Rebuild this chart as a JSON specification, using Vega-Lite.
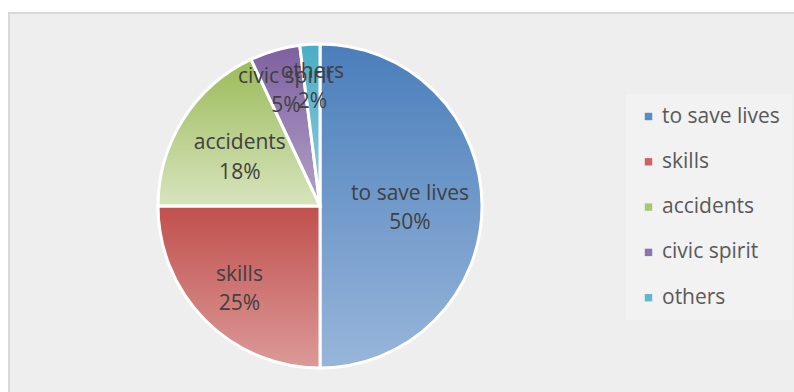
{
  "$schema": "https://vega.github.io/schema/vega-lite/v6.json",
  "width": 785,
  "height": 379,
  "autosize": {"type": "none"},
  "padding": {"left": 9, "top": 13, "right": 0, "bottom": 0},
  "background": "white",
  "config": {
    "view": {"stroke": null},
    "font": "Open Sans"
  },
  "data": {
    "values": [
      {"category": "to save lives", "value": 50, "rank": 1},
      {"category": "skills", "value": 25, "rank": 2},
      {"category": "accidents", "value": 18, "rank": 3},
      {"category": "civic spirit", "value": 5, "rank": 4},
      {"category": "others", "value": 2, "rank": 5}
    ]
  },
  "transform": [{"calculate": "[datum.category, datum.value + '%']", "as": "label"}],
  "layer": [
    {
      "data": {"values": [{}]},
      "mark": {"type": "rect", "fill": "#eeeeee", "stroke": "#d9d9d9", "strokeWidth": 2},
      "encoding": {
        "x": {"value": 0},
        "x2": {"value": 800},
        "y": {"value": 0},
        "y2": {"value": 400}
      }
    },
    {
      "mark": {"type": "arc", "x": {"expr": "width*0.3962"}, "y": {"expr": "height*0.5092"}, "outerRadius": 162},
      "encoding": {
        "theta": {"field": "value", "type": "quantitative", "stack": true},
        "order": {"field": "rank", "type": "quantitative"},
        "color": {
          "field": "category",
          "type": "nominal",
          "scale": {
            "domain": ["to save lives", "skills", "accidents", "civic spirit", "others"],
            "range": ["#5b8cc8", "#cc6461", "#aac673", "#8d73ac", "#5fb8d0"]
          },
          "legend": {
            "orient": "none",
            "legendX": 617,
            "legendY": 81,
            "title": null,
            "padding": 12,
            "fillColor": "rgba(255,255,255,0.25)",
            "symbolType": "square",
            "symbolSize": 55,
            "symbolStrokeWidth": 0,
            "labelFontSize": 21,
            "labelFont": "Open Sans",
            "labelColor": "#595959",
            "labelOffset": 3,
            "rowPadding": 23.3
          }
        }
      }
    },
    {
      "mark": {"type": "arc", "x": {"expr": "width*0.3962"}, "y": {"expr": "height*0.5092"}, "outerRadius": 162, "stroke": "white", "strokeWidth": 3},
      "encoding": {
        "theta": {"field": "value", "type": "quantitative", "stack": true},
        "order": {"field": "rank", "type": "quantitative"},
        "fill": {
          "condition": [
            {"test": "datum.category === 'to save lives'", "value": {"gradient": "linear", "x1": 0, "y1": 0, "x2": 0, "y2": 1, "stops": [{"offset": 0, "color": "#4a7ebb"}, {"offset": 1, "color": "#98b6da"}]}},
            {"test": "datum.category === 'skills'", "value": {"gradient": "linear", "x1": 0, "y1": 0, "x2": 0, "y2": 1, "stops": [{"offset": 0, "color": "#c0504d"}, {"offset": 1, "color": "#dc9a98"}]}},
            {"test": "datum.category === 'accidents'", "value": {"gradient": "linear", "x1": 0, "y1": 0, "x2": 0, "y2": 1, "stops": [{"offset": 0, "color": "#9bbb59"}, {"offset": 1, "color": "#d7e4bd"}]}},
            {"test": "datum.category === 'civic spirit'", "value": {"gradient": "linear", "x1": 0, "y1": 0, "x2": 0, "y2": 1, "stops": [{"offset": 0, "color": "#7d60a0"}, {"offset": 1, "color": "#b3a2c7"}]}}
          ],
          "value": {"gradient": "linear", "x1": 0, "y1": 0, "x2": 0, "y2": 1, "stops": [{"offset": 0, "color": "#4bacc6"}, {"offset": 1, "color": "#93cddd"}]}
        }
      }
    },
    {
      "mark": {"type": "text", "x": {"expr": "width*0.3962"}, "y": {"expr": "height*0.5092"}, "radius": 90, "dy": -12, "fontSize": 21, "color": "#404040", "lineHeight": 29.5},
      "encoding": {
        "theta": {"field": "value", "type": "quantitative", "stack": true},
        "order": {"field": "rank", "type": "quantitative"},
        "text": {"condition": {"test": "datum.category === 'to save lives'", "field": "label"}, "value": ""}
      }
    },
    {
      "mark": {"type": "text", "x": {"expr": "width*0.3962"}, "y": {"expr": "height*0.5092"}, "radius": 114, "dy": -12, "fontSize": 21, "color": "#404040", "lineHeight": 29.5},
      "encoding": {
        "theta": {"field": "value", "type": "quantitative", "stack": true},
        "order": {"field": "rank", "type": "quantitative"},
        "text": {"condition": {"test": "datum.category === 'skills'", "field": "label"}, "value": ""}
      }
    },
    {
      "mark": {"type": "text", "x": {"expr": "width*0.3962"}, "y": {"expr": "height*0.5092"}, "radius": 95, "dy": -12, "fontSize": 21, "color": "#404040", "lineHeight": 29.5},
      "encoding": {
        "theta": {"field": "value", "type": "quantitative", "stack": true},
        "order": {"field": "rank", "type": "quantitative"},
        "text": {"condition": {"test": "datum.category === 'accidents'", "field": "label"}, "value": ""}
      }
    },
    {
      "mark": {"type": "text", "x": {"expr": "width*0.3962"}, "y": {"expr": "height*0.5092"}, "radius": 122, "dy": -12, "fontSize": 21, "color": "#404040", "lineHeight": 29.5},
      "encoding": {
        "theta": {"field": "value", "type": "quantitative", "stack": true},
        "order": {"field": "rank", "type": "quantitative"},
        "text": {"condition": {"test": "datum.category === 'civic spirit' || datum.category === 'others'", "field": "label"}, "value": ""}
      }
    }
  ]
}
